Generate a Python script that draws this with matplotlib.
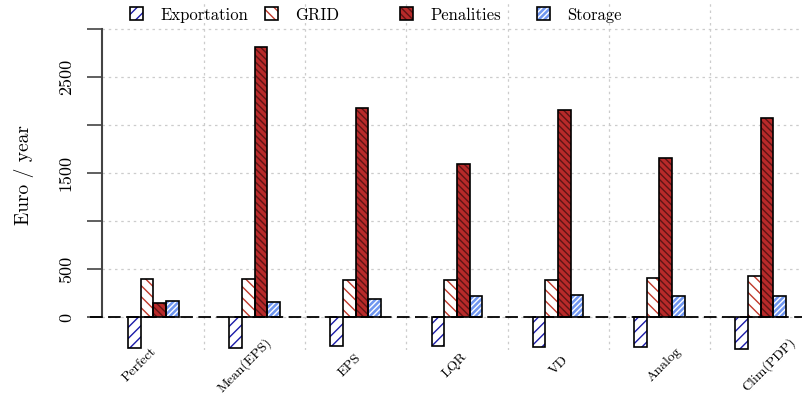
import numpy as np
import matplotlib
matplotlib.use('Agg')
from matplotlib import pyplot as plt
from matplotlib.patches import Patch
from matplotlib.legend_handler import HandlerTuple

plt.rcParams['font.family'] = ['cmr10', 'DejaVu Serif']
plt.rcParams['axes.formatter.use_mathtext'] = True
plt.rcParams['hatch.linewidth'] = 1.0

methods = ['Perfect', 'Mean(EPS)', 'EPS', 'LQR', 'VD', 'Analog', 'Clim(PDP)']
exportation = [-320, -322, -306, -306, -309, -316, -333]
grid = [399, 396, 388, 388, 388, 406, 423]
penalities = [146, 2808, 2173, 1594, 2156, 1656, 2073]
storage = [167, 156, 183, 215, 229, 219, 219]

series = [
    ('Exportation', exportation, 'white', '#1a1aa8', '///'),
    ('GRID', grid, 'white', '#c0392b', '\\\\\\'),
    ('Penalities', penalities, '#b82a2a', '#5e1414', '\\\\\\\\\\'),
    ('Storage', storage, '#6f96f0', 'white', '//////'),
]

fig = plt.figure(figsize=(8.02, 3.94), dpi=100)
ax = fig.add_axes([101.7 / 802, 1 - 350 / 394, 1 - 101.7 / 802, 350 / 394])

x = np.arange(len(methods))
w = 0.125
handles = []
for i, (name, vals, fc, hc, hatch) in enumerate(series):
    pos = x + (i - 1.5) * w
    ax.bar(pos, vals, w, color=fc, edgecolor=hc, hatch=hatch, linewidth=0, zorder=3)
    ax.bar(pos, vals, w, fill=False, edgecolor='black', linewidth=1.2, zorder=4)
    handles.append((Patch(facecolor=fc, edgecolor=hc, hatch=hatch, linewidth=0),
                    Patch(fill=False, edgecolor='black', linewidth=1.2)))

ax.axhline(0, color='black', linestyle=(0, (7, 3)), linewidth=1.3, zorder=5,
           xmin=-0.017, clip_on=False)

ax.set_xlim(-0.51, 6.41)
ax.set_ylim(-344, 3302)
ax.set_yticks([0, 500, 1000, 1500, 2000, 2500, 3000])
ax.set_yticklabels(['0', '500', '', '1500', '', '2500', ''], rotation=90, va='center', fontsize=13)
ax.set_xticks(x)
ax.set_xticklabels([])
ax.tick_params(axis='x', length=0)
ax.tick_params(axis='y', length=11, width=1.2, color='#444444', direction='out', pad=9)
ax.set_xticks(x[:-1] + 0.5, minor=True)
ax.tick_params(axis='x', which='minor', length=0)

# category labels, rotated, drifting slightly relative to the groups as in the original
trans = ax.get_xaxis_transform()
for xi, name in zip(x * 1.037 - 0.135, methods):
    ax.text(xi, -0.043, name, transform=trans, rotation=45, ha='center', va='center',
            rotation_mode='anchor', fontsize=10)

ax.grid(axis='y', which='major', color='#cccccc', linestyle=(0, (2, 3)), linewidth=0.9, zorder=0)
ax.grid(axis='x', which='minor', color='#cccccc', linestyle=(0, (2, 3)), linewidth=0.9, zorder=0)

for s in ['top', 'right', 'bottom']:
    ax.spines[s].set_visible(False)
ax.spines['left'].set_bounds(0, 3000)
ax.spines['left'].set_color('#444444')
ax.spines['left'].set_linewidth(1.5)

ax.set_ylabel('Euro / year', fontsize=14, labelpad=18)

# legend entries evenly spaced along the top
leg_x = [130, 265, 400, 537]
for (name, *_), h, lx in zip(series, handles, leg_x):
    fig.legend([h], [name], handler_map={tuple: HandlerTuple(ndivide=1, pad=0)},
               loc='center left', bbox_to_anchor=(lx / 802, 1 - 15 / 394),
               frameon=False, borderpad=0, borderaxespad=0, fontsize=12,
               handlelength=0.8, handleheight=0.8, handletextpad=1.0)

fig.savefig('out.png', dpi=100)
